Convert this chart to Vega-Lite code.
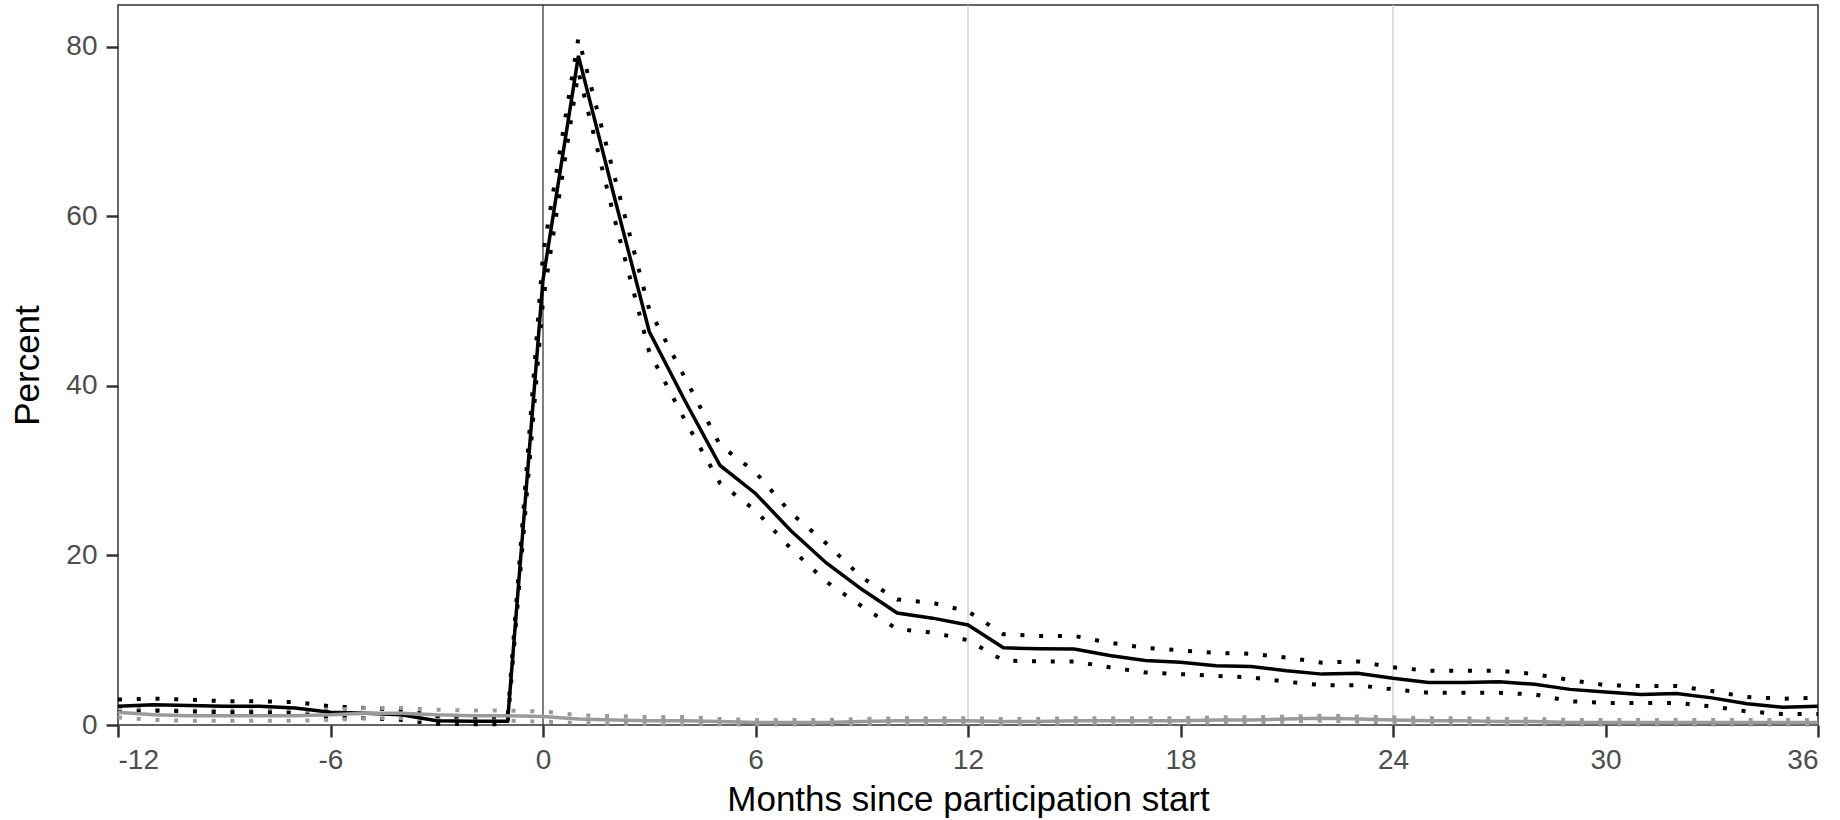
{
  "$schema": "https://vega.github.io/schema/vega-lite/v6.json",
  "width": 1700,
  "height": 720,
  "autosize": "none",
  "padding": {"left": 118, "top": 5, "right": 22, "bottom": 95},
  "background": "white",
  "config": {
    "view": {"stroke": "#333333", "strokeWidth": 1.5},
    "font": "Liberation Sans",
    "axis": {
      "grid": false,
      "domain": false,
      "tickColor": "#333333",
      "tickWidth": 2.5,
      "tickSize": 12,
      "labelFont": "Liberation Sans",
      "labelFontSize": 28,
      "labelColor": "#4D4D4D",
      "labelPadding": 9,
      "titleFont": "Liberation Sans",
      "titleFontSize": 35,
      "titleFontWeight": "normal",
      "titleColor": "#000000"
    }
  },
  "datasets": {
    "series": [
      {"month": -12, "group": "treated", "est": 2.2, "lo": 1.5, "hi": 3.0},
      {"month": -11, "group": "treated", "est": 2.4, "lo": 1.7, "hi": 3.1},
      {"month": -10, "group": "treated", "est": 2.3, "lo": 1.6, "hi": 3.0},
      {"month": -9, "group": "treated", "est": 2.2, "lo": 1.5, "hi": 2.8},
      {"month": -8, "group": "treated", "est": 2.2, "lo": 1.5, "hi": 2.8},
      {"month": -7, "group": "treated", "est": 2.0, "lo": 1.4, "hi": 2.7},
      {"month": -6, "group": "treated", "est": 1.5, "lo": 0.9, "hi": 2.2},
      {"month": -5, "group": "treated", "est": 1.4, "lo": 0.8, "hi": 2.0},
      {"month": -4, "group": "treated", "est": 1.2, "lo": 0.6, "hi": 1.8},
      {"month": -3, "group": "treated", "est": 0.5, "lo": 0.15, "hi": 1.0},
      {"month": -2, "group": "treated", "est": 0.45, "lo": 0.1, "hi": 0.9},
      {"month": -1, "group": "treated", "est": 0.45, "lo": 0.1, "hi": 0.9},
      {"month": 0, "group": "treated", "est": 52.5, "lo": 50.0, "hi": 55.5},
      {"month": 1, "group": "treated", "est": 78.9, "lo": 77.0, "hi": 81.0},
      {"month": 2, "group": "treated", "est": 62.5, "lo": 60.0, "hi": 65.0},
      {"month": 3, "group": "treated", "est": 46.4, "lo": 44.0, "hi": 49.0},
      {"month": 4, "group": "treated", "est": 38.3, "lo": 36.0, "hi": 41.0},
      {"month": 5, "group": "treated", "est": 30.6, "lo": 28.5, "hi": 33.0},
      {"month": 6, "group": "treated", "est": 27.3, "lo": 25.3, "hi": 29.8},
      {"month": 7, "group": "treated", "est": 22.9, "lo": 20.8, "hi": 25.0},
      {"month": 8, "group": "treated", "est": 19.1, "lo": 16.9, "hi": 21.4},
      {"month": 9, "group": "treated", "est": 16.0, "lo": 14.0, "hi": 17.4},
      {"month": 10, "group": "treated", "est": 13.2, "lo": 11.3, "hi": 14.8},
      {"month": 11, "group": "treated", "est": 12.6, "lo": 10.9, "hi": 14.4},
      {"month": 12, "group": "treated", "est": 11.8, "lo": 10.0, "hi": 13.4},
      {"month": 13, "group": "treated", "est": 9.1, "lo": 7.6, "hi": 10.7},
      {"month": 14, "group": "treated", "est": 9.0, "lo": 7.5, "hi": 10.5},
      {"month": 15, "group": "treated", "est": 8.95, "lo": 7.5, "hi": 10.5},
      {"month": 16, "group": "treated", "est": 8.2, "lo": 6.8, "hi": 9.7},
      {"month": 17, "group": "treated", "est": 7.6, "lo": 6.2, "hi": 9.1},
      {"month": 18, "group": "treated", "est": 7.4, "lo": 6.0, "hi": 8.8},
      {"month": 19, "group": "treated", "est": 7.0, "lo": 5.8, "hi": 8.5},
      {"month": 20, "group": "treated", "est": 6.9, "lo": 5.6, "hi": 8.4},
      {"month": 21, "group": "treated", "est": 6.4, "lo": 5.1, "hi": 7.95},
      {"month": 22, "group": "treated", "est": 6.0, "lo": 4.7, "hi": 7.35},
      {"month": 23, "group": "treated", "est": 6.1, "lo": 4.7, "hi": 7.5},
      {"month": 24, "group": "treated", "est": 5.5, "lo": 4.2, "hi": 6.8},
      {"month": 25, "group": "treated", "est": 5.0, "lo": 3.8, "hi": 6.4},
      {"month": 26, "group": "treated", "est": 5.0, "lo": 3.8, "hi": 6.4},
      {"month": 27, "group": "treated", "est": 5.1, "lo": 3.8, "hi": 6.4},
      {"month": 28, "group": "treated", "est": 4.8, "lo": 3.6, "hi": 6.0},
      {"month": 29, "group": "treated", "est": 4.2, "lo": 2.8, "hi": 5.3},
      {"month": 30, "group": "treated", "est": 3.9, "lo": 2.6, "hi": 4.7},
      {"month": 31, "group": "treated", "est": 3.6, "lo": 2.6, "hi": 4.6},
      {"month": 32, "group": "treated", "est": 3.7, "lo": 2.6, "hi": 4.6},
      {"month": 33, "group": "treated", "est": 3.2, "lo": 2.2, "hi": 4.0},
      {"month": 34, "group": "treated", "est": 2.5, "lo": 1.6, "hi": 3.3},
      {"month": 35, "group": "treated", "est": 2.1, "lo": 1.3, "hi": 3.1},
      {"month": 36, "group": "treated", "est": 2.2, "lo": 1.3, "hi": 3.2},
      {"month": -12, "group": "control", "est": 1.5, "lo": 0.9, "hi": 2.1},
      {"month": -11, "group": "control", "est": 1.2, "lo": 0.6, "hi": 1.8},
      {"month": -10, "group": "control", "est": 1.1, "lo": 0.5, "hi": 1.7},
      {"month": -9, "group": "control", "est": 1.1, "lo": 0.5, "hi": 1.7},
      {"month": -8, "group": "control", "est": 1.1, "lo": 0.5, "hi": 1.7},
      {"month": -7, "group": "control", "est": 1.1, "lo": 0.5, "hi": 1.7},
      {"month": -6, "group": "control", "est": 1.2, "lo": 0.6, "hi": 1.8},
      {"month": -5, "group": "control", "est": 1.4, "lo": 0.8, "hi": 2.0},
      {"month": -4, "group": "control", "est": 1.4, "lo": 0.8, "hi": 2.0},
      {"month": -3, "group": "control", "est": 1.2, "lo": 0.6, "hi": 1.8},
      {"month": -2, "group": "control", "est": 1.1, "lo": 0.5, "hi": 1.7},
      {"month": -1, "group": "control", "est": 1.1, "lo": 0.5, "hi": 1.7},
      {"month": 0, "group": "control", "est": 1.0, "lo": 0.4, "hi": 1.6},
      {"month": 1, "group": "control", "est": 0.7, "lo": 0.25, "hi": 1.15},
      {"month": 2, "group": "control", "est": 0.6, "lo": 0.15, "hi": 1.05},
      {"month": 3, "group": "control", "est": 0.5, "lo": 0.1, "hi": 0.95},
      {"month": 4, "group": "control", "est": 0.5, "lo": 0.1, "hi": 0.95},
      {"month": 5, "group": "control", "est": 0.4, "lo": 0.1, "hi": 0.7},
      {"month": 6, "group": "control", "est": 0.3, "lo": 0.05, "hi": 0.6},
      {"month": 7, "group": "control", "est": 0.3, "lo": 0.05, "hi": 0.6},
      {"month": 8, "group": "control", "est": 0.3, "lo": 0.05, "hi": 0.6},
      {"month": 9, "group": "control", "est": 0.4, "lo": 0.1, "hi": 0.7},
      {"month": 10, "group": "control", "est": 0.5, "lo": 0.2, "hi": 0.8},
      {"month": 11, "group": "control", "est": 0.5, "lo": 0.2, "hi": 0.8},
      {"month": 12, "group": "control", "est": 0.5, "lo": 0.2, "hi": 0.8},
      {"month": 13, "group": "control", "est": 0.4, "lo": 0.1, "hi": 0.7},
      {"month": 14, "group": "control", "est": 0.4, "lo": 0.1, "hi": 0.7},
      {"month": 15, "group": "control", "est": 0.5, "lo": 0.2, "hi": 0.8},
      {"month": 16, "group": "control", "est": 0.5, "lo": 0.2, "hi": 0.8},
      {"month": 17, "group": "control", "est": 0.5, "lo": 0.2, "hi": 0.8},
      {"month": 18, "group": "control", "est": 0.5, "lo": 0.2, "hi": 0.8},
      {"month": 19, "group": "control", "est": 0.6, "lo": 0.3, "hi": 0.9},
      {"month": 20, "group": "control", "est": 0.6, "lo": 0.3, "hi": 0.9},
      {"month": 21, "group": "control", "est": 0.7, "lo": 0.4, "hi": 1.0},
      {"month": 22, "group": "control", "est": 0.8, "lo": 0.5, "hi": 1.1},
      {"month": 23, "group": "control", "est": 0.7, "lo": 0.4, "hi": 1.0},
      {"month": 24, "group": "control", "est": 0.6, "lo": 0.3, "hi": 0.9},
      {"month": 25, "group": "control", "est": 0.5, "lo": 0.2, "hi": 0.8},
      {"month": 26, "group": "control", "est": 0.5, "lo": 0.2, "hi": 0.8},
      {"month": 27, "group": "control", "est": 0.4, "lo": 0.1, "hi": 0.7},
      {"month": 28, "group": "control", "est": 0.4, "lo": 0.1, "hi": 0.7},
      {"month": 29, "group": "control", "est": 0.3, "lo": 0.05, "hi": 0.6},
      {"month": 30, "group": "control", "est": 0.3, "lo": 0.05, "hi": 0.6},
      {"month": 31, "group": "control", "est": 0.3, "lo": 0.05, "hi": 0.6},
      {"month": 32, "group": "control", "est": 0.3, "lo": 0.05, "hi": 0.6},
      {"month": 33, "group": "control", "est": 0.3, "lo": 0.05, "hi": 0.6},
      {"month": 34, "group": "control", "est": 0.3, "lo": 0.05, "hi": 0.6},
      {"month": 35, "group": "control", "est": 0.3, "lo": 0.05, "hi": 0.6},
      {"month": 36, "group": "control", "est": 0.3, "lo": 0.05, "hi": 0.6}
    ],
    "vlines": [
      {"month": 0, "kind": "start"},
      {"month": 12, "kind": "year"},
      {"month": 24, "kind": "year"}
    ]
  },
  "encoding": {
    "x": {
      "field": "month", "type": "quantitative",
      "scale": {"domain": [-12, 36], "nice": false, "zero": false},
      "axis": {"values": [-12, -6, 0, 6, 12, 18, 24, 30, 36], "labelExpr": "'' + datum.value", "title": "Months since participation start", "titlePadding": 8}
    }
  },
  "layer": [
    {
      "data": {"name": "vlines"},
      "mark": {"type": "rule", "strokeWidth": 1.2},
      "encoding": {
        "color": {"field": "kind", "type": "nominal", "scale": {"domain": ["start", "year"], "range": ["#2a2a2a", "#c8c8c8"]}, "legend": null}
      }
    },
    {
      "data": {"name": "series"},
      "mark": {"type": "line", "strokeWidth": 4, "strokeDash": [4, 14.75], "strokeCap": "butt"},
      "encoding": {
        "y": {"field": "hi", "type": "quantitative", "scale": {"domain": [0, 84.9], "nice": false}, "axis": {"values": [0, 20, 40, 60, 80], "labelExpr": "'' + datum.value", "title": "Percent", "titlePadding": 20}},
        "stroke": {"field": "group", "type": "nominal", "scale": {"domain": ["control", "treated"], "range": ["#9a9a9a", "#000000"]}, "legend": null}
      }
    },
    {
      "data": {"name": "series"},
      "mark": {"type": "line", "strokeWidth": 4, "strokeDash": [4, 14.75], "strokeCap": "butt"},
      "encoding": {
        "y": {"field": "lo", "type": "quantitative"},
        "stroke": {"field": "group", "type": "nominal", "legend": null}
      }
    },
    {
      "data": {"name": "series"},
      "mark": {"type": "line", "strokeWidth": 3.5, "strokeJoin": "miter"},
      "encoding": {
        "y": {"field": "est", "type": "quantitative"},
        "stroke": {"field": "group", "type": "nominal", "legend": null},
        "order": {"field": "month", "type": "quantitative"}
      }
    }
  ]
}
